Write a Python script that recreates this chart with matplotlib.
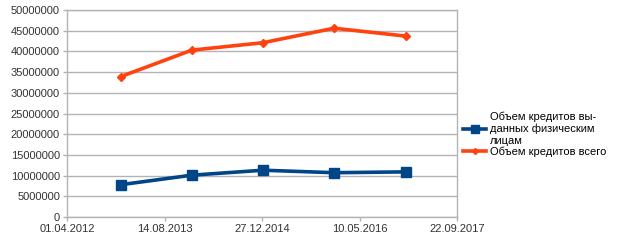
import datetime as dt

import matplotlib.pyplot as plt
import matplotlib.dates as mdates
from matplotlib.ticker import FixedLocator

plt.rcParams['font.family'] = ['Liberation Sans', 'DejaVu Sans']

dates = [dt.date(2013, 1, 1), dt.date(2014, 1, 1), dt.date(2015, 1, 1),
         dt.date(2016, 1, 1), dt.date(2017, 1, 1)]
individuals = [7800000, 10100000, 11300000, 10700000, 10900000]
total = [33900000, 40300000, 42100000, 45600000, 43700000]

x_ticks = [dt.date(2012, 4, 1), dt.date(2013, 8, 14), dt.date(2014, 12, 27),
           dt.date(2016, 5, 10), dt.date(2017, 9, 22)]
y_ticks = list(range(0, 50000001, 5000000))

label_ind = "Объем кредитов вы-\nданных физическим\nлицам"
label_tot = "Объем кредитов всего"

BLUE = "#004586"
ORANGE = "#ff420e"
GRID = "#b3b3b3"


def main():
    fig = plt.figure(figsize=(6.24, 2.4), dpi=100)
    ax = fig.add_axes([67 / 624, 1 - 217 / 240, 390 / 624, 207 / 240])

    ax.plot(dates, individuals, color=BLUE, linewidth=2.6, marker="s",
            markersize=7, label=label_ind)
    ax.plot(dates, total, color=ORANGE, linewidth=2.6, marker="D",
            markersize=4, label=label_tot)

    ax.set_xlim(mdates.date2num(x_ticks[0]), mdates.date2num(x_ticks[-1]))
    ax.set_ylim(0, 50000000)
    ax.xaxis.set_major_locator(FixedLocator(mdates.date2num(x_ticks)))
    ax.xaxis.set_major_formatter(mdates.DateFormatter("%d.%m.%Y"))
    ax.set_yticks(y_ticks)
    ax.set_yticklabels([str(v) for v in y_ticks])

    ax.grid(axis="y", color=GRID, linewidth=1)
    ax.set_axisbelow(True)
    for s in ax.spines.values():
        s.set_color(GRID)
        s.set_linewidth(1)
    ax.tick_params(colors=GRID, labelcolor="#333333", labelsize=8,
                   length=3, width=1, pad=2)

    ax.legend(loc="center left", bbox_to_anchor=(1.005, 0.40), frameon=False,
              fontsize=8, handlelength=2.0, handletextpad=0.4,
              labelspacing=0.05, borderaxespad=0, markerscale=0.75)

    fig.savefig("out.png", dpi=100)


if __name__ == "__main__":
    main()
